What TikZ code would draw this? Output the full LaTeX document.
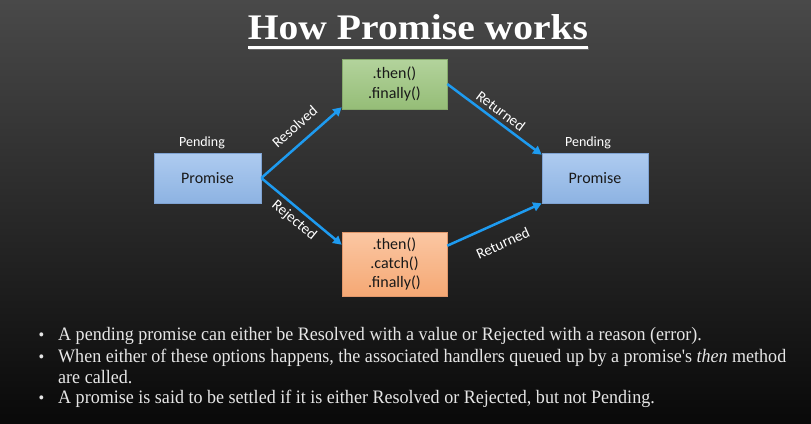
\documentclass[tikz,border=0pt]{standalone}
\usepackage{fontspec}
\setmainfont{Liberation Serif}
\newfontfamily\boxfont{Carlito}
\newfontfamily\titlefont[FakeStretch=1.1]{Liberation Serif}
\newfontfamily\notefont[FakeStretch=0.95, Ligatures=TeXOff]{Liberation Serif}
\usetikzlibrary{arrows.meta}
\definecolor{arrowblue}{HTML}{1E9BF0}
\definecolor{bgtop}{HTML}{494949}
\definecolor{bgbottom}{HTML}{090909}
\definecolor{bulletgray}{HTML}{E6E6E6}
\definecolor{bluetop}{HTML}{AECBF0}
\definecolor{bluebot}{HTML}{8DB3E2}
\definecolor{blueline}{HTML}{7FA3D3}
\definecolor{greentop}{HTML}{B3D39C}
\definecolor{greenbot}{HTML}{95BD77}
\definecolor{greenline}{HTML}{86AA6C}
\definecolor{orangetop}{HTML}{FBC7A3}
\definecolor{orangebot}{HTML}{F5A874}
\definecolor{orangeline}{HTML}{E0966A}
\tikzset{
  statebox/.style={line width=0.6pt, minimum height=50pt, inner sep=2pt,
    align=center, font=\boxfont\fontsize{16}{20}\selectfont, text=black!90},
  bluebox/.style={statebox, draw=blueline, top color=bluetop, bottom color=bluebot},
  greenbox/.style={statebox, draw=greenline, top color=greentop, bottom color=greenbot},
  orangebox/.style={statebox, draw=orangeline, top color=orangetop, bottom color=orangebot},
  flow/.style={draw=arrowblue, line width=2.5pt, -{Triangle[length=8.5pt,width=9pt]}},
  flowlabel/.style={sloped, text=white, font=\boxfont\fontsize{15}{17}\selectfont, inner sep=0pt},
  statelabel/.style={text=white, font=\boxfont\fontsize{14}{16}\selectfont},
  bullettext/.style={anchor=base west, inner sep=0pt, text=bulletgray, font=\notefont\fontsize{19}{21}\selectfont},
  titletext/.style={anchor=base, inner sep=0pt, font=\titlefont\fontsize{36}{40}\selectfont\bfseries},
}
\begin{document}
\begin{tikzpicture}[x=1pt, y=-1pt]
  % slide background
  \shade[top color=bgtop, bottom color=bgbottom] (0,0) rectangle (811,423);
  \useasboundingbox (0,0) rectangle (811,423);

  % title with a soft shadow and underline
  \node[titletext, text=black!75] at (419,39.8) {How Promise works};
  \node[titletext, text=white] (title) at (418,39) {How Promise works};
  \fill[black!60] (249,46.5) rectangle (589,49.5);
  \fill[white] (248,45.5) rectangle (588,48.5);

  % states
  \node[bluebox, minimum width=107pt] (p1) at (207.5,178) {Promise};
  \node[bluebox, minimum width=106pt] (p2) at (595,178) {Promise};
  \node[greenbox, minimum width=105pt] (g) at (394.5,84) {.then()\\.finally()};
  \node[orangebox, minimum width=105pt, minimum height=64pt, font=\boxfont\fontsize{16}{19}\selectfont]
        (o) at (394.5,264) {.then()\\.catch()\\.finally()};

  \node[statelabel] (pend1) at (202,143) {Pending};
  \node[statelabel] (pend2) at (588,143) {Pending};

  % transitions
  \draw[flow] (p1.east) -- node[flowlabel, above=10pt, pos=0.55] {Resolved} ([yshift=2pt]g.south west);
  \draw[flow] (p1.east) -- node[flowlabel, below=4pt] {Rejected} ([yshift=-13pt]o.north west);
  \draw[flow] (g.east) -- node[flowlabel, above=4pt] {Returned} ([yshift=-2pt]p2.north west);
  \draw[flow] ([yshift=-14pt]o.north east) -- node[flowlabel, below=14pt] {Returned} (p2.south west);

  % notes
  \foreach \yy in {340,362,403}
    \node[bullettext, font=\notefont\fontsize{17}{17}\selectfont] at (38.5,\yy) {•};
  \node[bullettext] (n1) at (58,340) {A pending promise can either be Resolved with a value or Rejected with a reason (error).};
  \node[bullettext] (n2) at (58,362) {When either of these options happens, the associated handlers queued up by a promise's \textit{then} method};
  \node[bullettext] (n3) at (58,383) {are called.};
  \node[bullettext] (n4) at (58,403) {A promise is said to be settled if it is either Resolved or Rejected, but not Pending.};
\end{tikzpicture}
\end{document}
